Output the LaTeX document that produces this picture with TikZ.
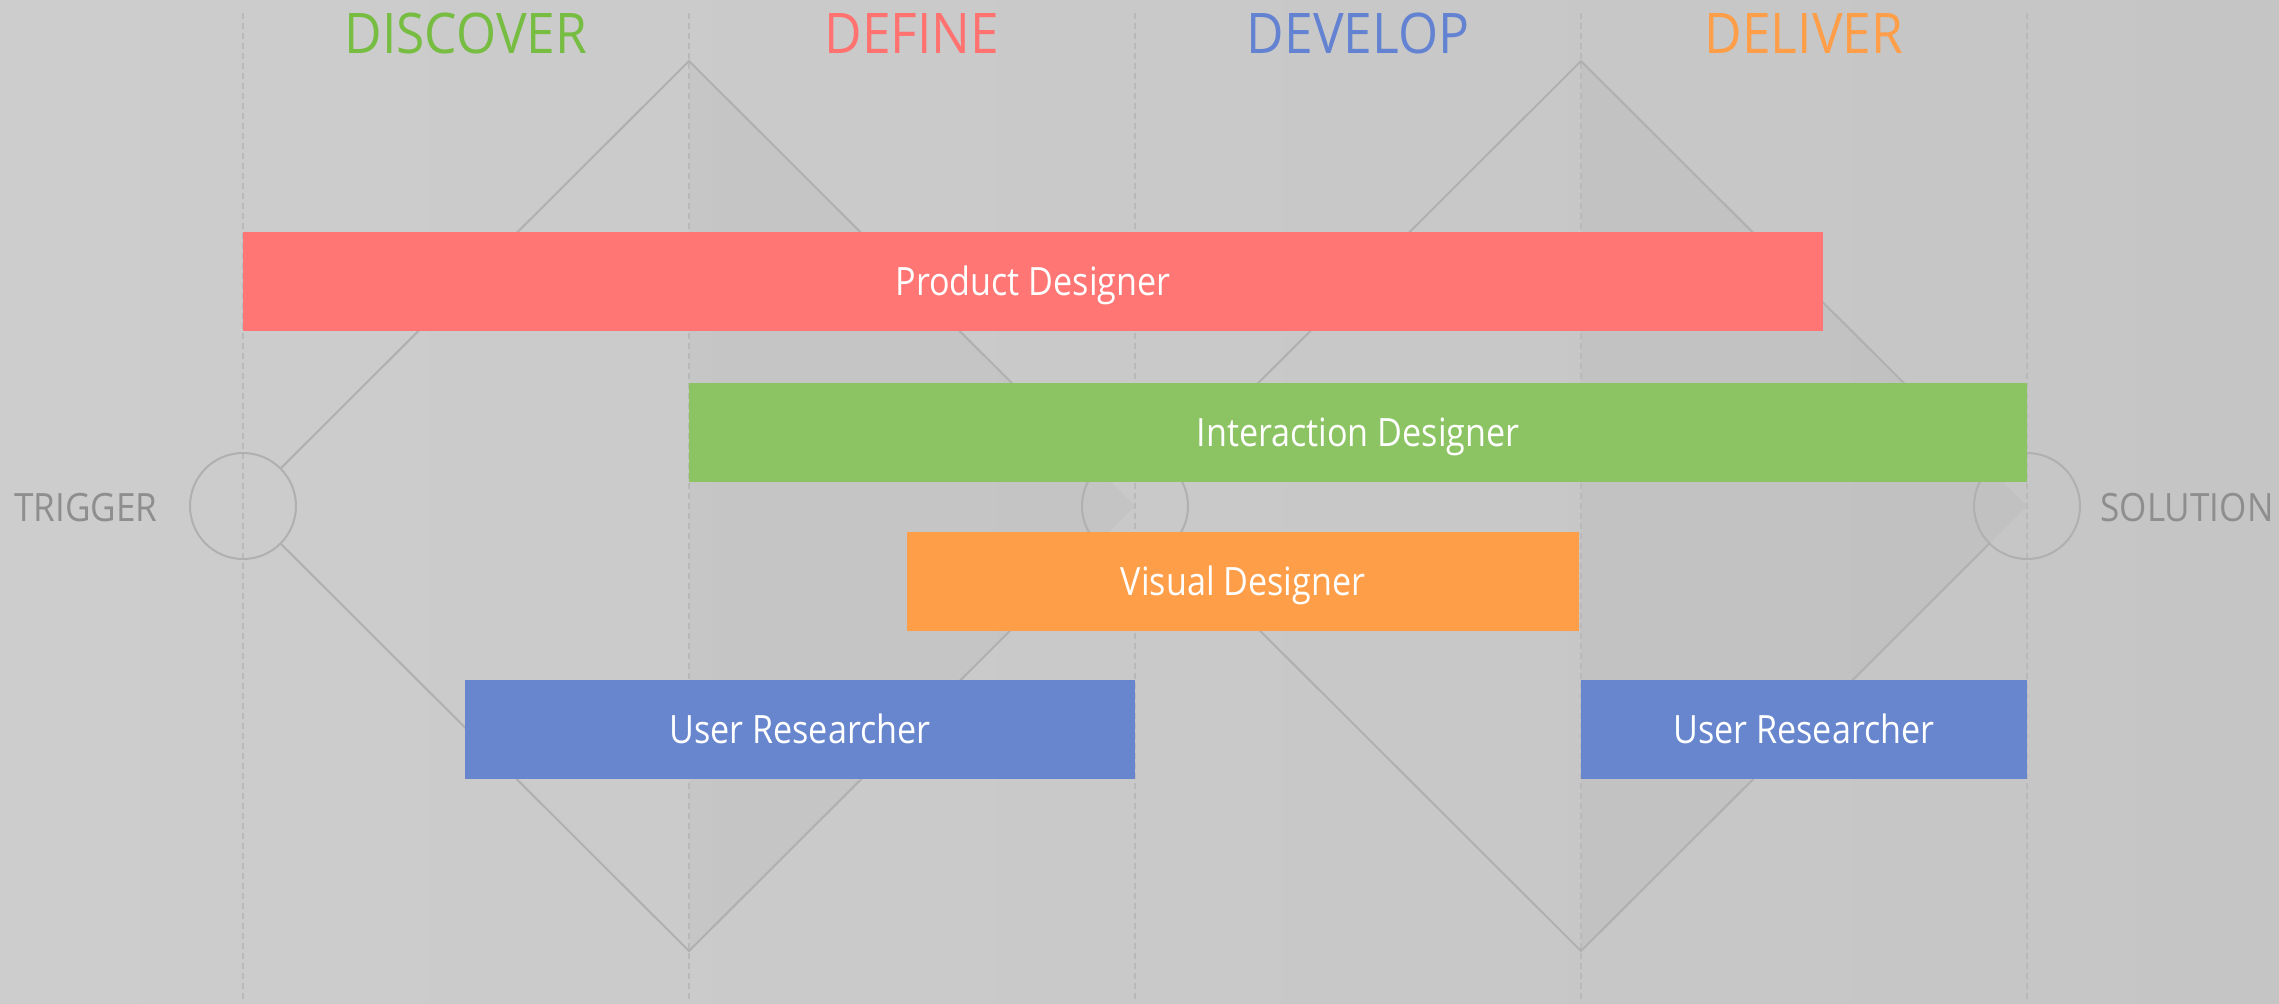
\documentclass[tikz,border=0pt]{standalone}
\usepackage{fontspec}
\setmainfont{Open Sans}[FakeStretch=0.875]
\newfontfamily\headfont{Open Sans}[FakeStretch=0.92]
\newfontfamily\sidefont{Open Sans}[FakeStretch=0.9]
\definecolor{bgl}{RGB}{205,205,205}
\definecolor{bgr}{RGB}{197,197,197}
\definecolor{linegray}{RGB}{176,176,176}
\definecolor{guidegray}{RGB}{185,185,185}
\definecolor{sidegray}{RGB}{142,142,142}
\definecolor{barred}{RGB}{255,118,116}
\definecolor{bargreen}{RGB}{140,196,99}
\definecolor{barorange}{RGB}{254,158,72}
\definecolor{barblue}{RGB}{103,134,206}
\definecolor{hgreen}{RGB}{118,189,66}
\definecolor{hred}{RGB}{255,114,112}
\definecolor{hblue}{RGB}{99,131,210}
\definecolor{horange}{RGB}{254,158,72}
\begin{document}
\begin{tikzpicture}[x=0.5pt,y=-0.5pt,
  bar/.style={rectangle, inner sep=0pt, minimum height=49.5pt, text=white,
    font=\fontsize{19.5}{20}\selectfont, text height=14pt, text depth=0pt},
  head/.style={anchor=base, inner sep=0pt, font=\headfont\fontsize{28}{30}\selectfont},
  side/.style={anchor=base west, inner sep=0pt, text=sidegray, font=\sidefont\fontsize{19.5}{20}\selectfont},
  ring/.style={circle, draw=linegray, line width=1pt, minimum size=53pt, inner sep=0pt},
  diam/.style={draw=linegray, line width=1pt},
  guide/.style={draw=guidegray, line width=0.6pt, dash pattern=on 3pt off 2pt},
  halfshade/.style={fill=black, fill opacity=0.025}]
\useasboundingbox (0,0) rectangle (2279,1003);
\fill[left color=bgl, right color=bgr] (0,0) rectangle (2279,1003);

% apex coordinates
\coordinate (t1) at (689,61);
\coordinate (b1) at (689,951);
\coordinate (t2) at (1581,61);
\coordinate (b2) at (1581,951);

% slightly darker right halves of the diamonds
\fill[halfshade] (t1) -- (1135,506) -- (b1) -- cycle;
\fill[halfshade] (t2) -- (2027,506) -- (b2) -- cycle;

% dashed guides
\foreach \gx/\gn in {243/g1,689/g2,1135/g3,1581/g4,2027/g5}{
  \coordinate (\gn top) at (\gx,13);
  \coordinate (\gn bot) at (\gx,1003);
  \draw[guide] (\gn top) -- (\gn bot);
}

% circles
\node[ring] (c1) at (243,506) {};
\node[ring] (c2) at (1135,506) {};
\node[ring] (c3) at (2027,506) {};

% diamonds
\draw[diam] (c1) -- (t1) -- (c2);
\draw[diam] (c1) -- (b1) -- (c2);
\draw[diam] (c2) -- (t2) -- (c3);
\draw[diam] (c2) -- (b2) -- (c3);

% bars
\node[bar, fill=barred, minimum width=790pt] (pd) at (1033,281.5) {Product Designer};
\node[bar, fill=bargreen, minimum width=669pt] (id) at (1358,432) {Interaction Designer};
\node[bar, fill=barorange, minimum width=336pt] (vd) at (1243,581) {Visual Designer};
\node[bar, fill=barblue, minimum width=335pt] (ur1) at (800,729.5) {User Researcher};
\node[bar, fill=barblue, minimum width=223pt] (ur2) at (1804,729.5) {User Researcher};

% headings
\node[head, text=hgreen] (h1) at (466,53) {DISCOVER};
\node[head, text=hred] (h2) at (912,53) {DEFINE};
\node[head, text=hblue] (h3) at (1358,53) {DEVELOP};
\node[head, text=horange] (h4) at (1804,53) {DELIVER};

% side labels
\node[side] (trig) at (14,521) {TRIGGER};
\node[side] (sol) at (2100,521) {SOLUTION};
\end{tikzpicture}
\end{document}
